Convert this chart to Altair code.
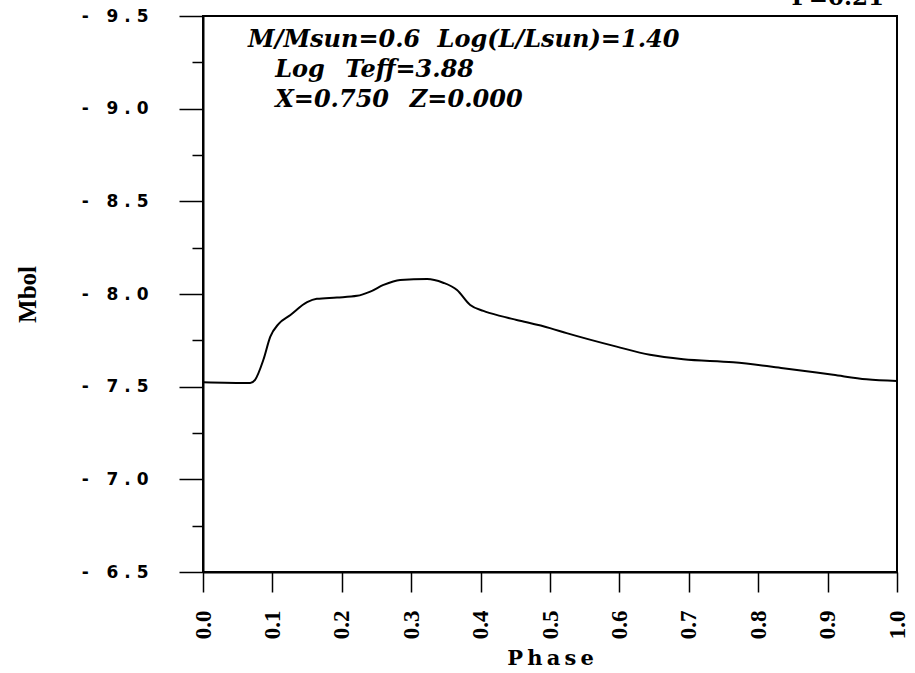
import altair as alt
import pandas as pd

# ---- data ----
phase = [0.0, 0.068, 0.075, 0.087, 0.097, 0.109, 0.126, 0.150, 0.164, 0.193,
         0.222, 0.241, 0.260, 0.284, 0.323, 0.346, 0.366, 0.385, 0.404, 0.428,
         0.452, 0.500, 0.524, 0.596, 0.644, 0.692, 0.764, 0.836, 0.908, 0.956, 1.0]
mbol = [7.524, 7.520, 7.537, 7.645, 7.770, 7.839, 7.887, 7.956, 7.974, 7.981,
        7.990, 8.013, 8.049, 8.076, 8.081, 8.061, 8.022, 7.941, 7.909, 7.882,
        7.860, 7.816, 7.789, 7.716, 7.672, 7.648, 7.632, 7.600, 7.564, 7.540, 7.531]

x_ticks = [0.0, 0.05, 0.1, 0.15, 0.2, 0.25, 0.3, 0.35, 0.4, 0.45, 0.5,
           0.55, 0.6, 0.65, 0.7, 0.75, 0.8, 0.85, 0.9, 0.95, 1.0]
y_ticks = [6.5, 6.75, 7.0, 7.25, 7.5, 7.75, 8.0, 8.25, 8.5, 8.75, 9.0, 9.25, 9.5]

# annotation pieces (text, phase, Mbol) in data coordinates
ann_text = ["M/Msun=0.6", "Log(L/Lsun)=1.40", "Log", "Teff=3.88", "X=0.750", "Z=0.000"]
ann_phase = [0.065, 0.338, 0.104, 0.205, 0.104, 0.298]
ann_mbol = [9.370, 9.370, 9.209, 9.209, 9.047, 9.047]

period_text = "P=0.21"

df = pd.DataFrame({"Phase": phase, "Mbol": mbol})
ann = pd.DataFrame({"t": ann_text, "Phase": ann_phase, "Mbol": ann_mbol})

NB = "\u00a0"
xscale = alt.Scale(domain=[0, 1], nice=False, zero=False)
yscale = alt.Scale(domain=[6.5, 9.5], nice=False, zero=False)

xaxis = alt.Axis(
    values=x_ticks,
    title="P\u2009h\u2009a\u2009s\u2009e",
    titleFont="DejaVu Serif", titleFontSize=21, titleFontWeight="bold",
    titleColor="black", titleY=86, titleBaseline="middle",
    labelExpr="round(datum.value*100) % 10 === 0 ? format(datum.value, '.1f') : ''",
    labelAngle=270, labelFont="Liberation Serif", labelFontSize=23,
    labelFontWeight="bold", labelColor="black", labelPadding=18,
    tickSize={"condition": {"test": "round(datum.value*100) % 10 === 0", "value": 20}, "value": 10},
    grid=False, labelFlush=False, labelOverlap=False,
)
yaxis = alt.Axis(
    values=y_ticks,
    title="Mbol",
    titleFont="Liberation Serif", titleFontSize=25, titleFontWeight="bold",
    titleColor="black", titleAngle=270, titleX=-176, titleY=278,
    titleBaseline="middle", titleAlign="center",
    labelExpr=("round(datum.value*100) % 50 === 0 ? '-" + NB * 3 + "' + "
               "replace(format(datum.value, '.1f'), '.', '" + NB + "." + NB + "') : ''"),
    labelFont="DejaVu Sans", labelFontSize=17, labelFontWeight="bold",
    labelColor="black", labelPadding=31, labelBaseline="middle",
    tickSize={"condition": {"test": "round(datum.value*100) % 50 === 0", "value": 24}, "value": 11},
    grid=False, labelFlush=False, labelOverlap=False,
)

line = alt.Chart(df).mark_line(color="black", strokeWidth=2, interpolate="monotone").encode(
    x=alt.X("Phase:Q", scale=xscale, axis=xaxis),
    y=alt.Y("Mbol:Q", scale=yscale, axis=yaxis),
)

text = alt.Chart(ann).mark_text(
    align="left", baseline="middle", font="DejaVu Serif", fontSize=24,
    fontStyle="italic", fontWeight="bold", color="black",
).encode(x=alt.X("Phase:Q", scale=xscale), y=alt.Y("Mbol:Q", scale=yscale), text="t:N")

ptext = alt.Chart(pd.DataFrame({"t": [period_text]})).mark_text(
    align="right", baseline="alphabetic", font="DejaVu Serif", fontSize=23,
    fontWeight="bold", color="black", dx=-13,
).encode(x=alt.datum(1.0, scale=xscale), y=alt.datum(9.559, scale=yscale), text="t:N")

chart = alt.layer(line, text, ptext).properties(
    width=694, height=556,
    autosize=alt.AutoSizeParams(type="none"),
    padding={"left": 203, "top": 16, "right": 18, "bottom": 101},
    background="white",
).configure_view(
    stroke="black", strokeWidth=2,
).configure_axis(
    domainColor="black", domainWidth=2, tickColor="black", tickWidth=1.5,
)

chart.save("out.html", embed_options={"renderer": "svg", "actions": False})
